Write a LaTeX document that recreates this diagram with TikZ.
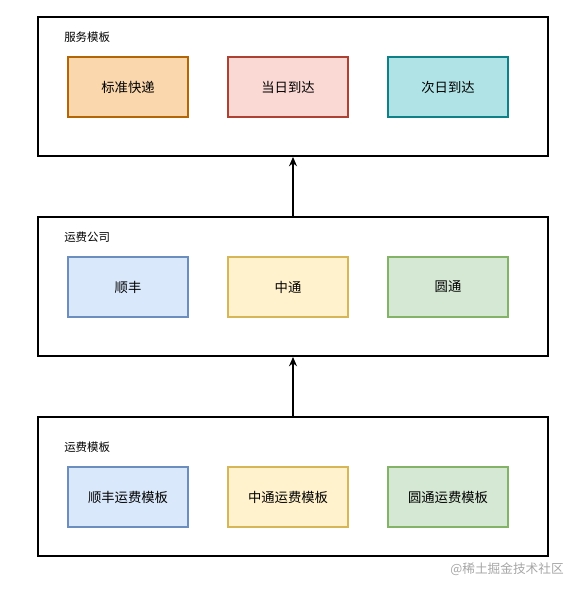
\documentclass[tikz,border=0pt]{standalone}
\usepackage{fontspec}
\setmainfont{Noto Sans CJK SC}
\usepackage{xcolor}
\usetikzlibrary{positioning, arrows.meta}

\definecolor{orangeFill}{HTML}{FAD7AC}
\definecolor{orangeLine}{HTML}{B46504}
\definecolor{redFill}{HTML}{FAD9D5}
\definecolor{redLine}{HTML}{AE4132}
\definecolor{tealFill}{HTML}{B0E3E6}
\definecolor{tealLine}{HTML}{0E8088}
\definecolor{blueFill}{HTML}{DAE8FC}
\definecolor{blueLine}{HTML}{6C8EBF}
\definecolor{yellowFill}{HTML}{FFF2CC}
\definecolor{yellowLine}{HTML}{D6B656}
\definecolor{greenFill}{HTML}{D5E8D4}
\definecolor{greenLine}{HTML}{82B366}

\begin{document}
\begin{tikzpicture}[x=0.75pt, y=-0.75pt,
  layer/.style={draw, line width=1.4pt, minimum width=382.5pt, minimum height=104.25pt, inner sep=0pt},
  item/.style={draw, line width=1.1pt, minimum width=90pt, minimum height=45pt, inner sep=0pt, font=\fontsize{10}{12}\selectfont},
  caption/.style={anchor=west, inner sep=0pt, font=\fontsize{8.6}{10}\selectfont},
  link/.style={line width=1.1pt, -{Stealth[length=7pt, width=6pt]}}]
\useasboundingbox (0,0) rectangle (579,592);
% top layer
\node[layer] (service) at (293,86.5) {};
\node[caption] (serviceTitle) at (64,37) {服务模板};
\node[item, fill=orangeFill, draw=orangeLine] (standard) at (128,87) {标准快递};
\node[item, fill=redFill, draw=redLine] (sameDay) at (288,87) {当日到达};
\node[item, fill=tealFill, draw=tealLine] (nextDay) at (448,87) {次日到达};
% middle layer
\node[layer] (company) at (293,286.5) {};
\node[caption] (companyTitle) at (64,237) {运费公司};
\node[item, fill=blueFill, draw=blueLine] (sf) at (128,287) {顺丰};
\node[item, fill=yellowFill, draw=yellowLine] (zto) at (288,287) {中通};
\node[item, fill=greenFill, draw=greenLine] (yto) at (448,287) {圆通};
% bottom layer
\node[layer] (fee) at (293,486.5) {};
\node[caption] (feeTitle) at (64,447) {运费模板};
\node[item, fill=blueFill, draw=blueLine] (sfFee) at (128,497) {顺丰运费模板};
\node[item, fill=yellowFill, draw=yellowLine] (ztoFee) at (288,497) {中通运费模板};
\node[item, fill=greenFill, draw=greenLine] (ytoFee) at (448,497) {圆通运费模板};
% arrows
\draw[link] (company.north) -- (service.south);
\draw[link] (fee.north) -- (company.south);
\node[anchor=east, inner sep=0pt, text=black!35, font=\fontsize{9.5}{11}\selectfont] (mark) at (564,569) {@稀土掘金技术社区};
\end{tikzpicture}
\end{document}
